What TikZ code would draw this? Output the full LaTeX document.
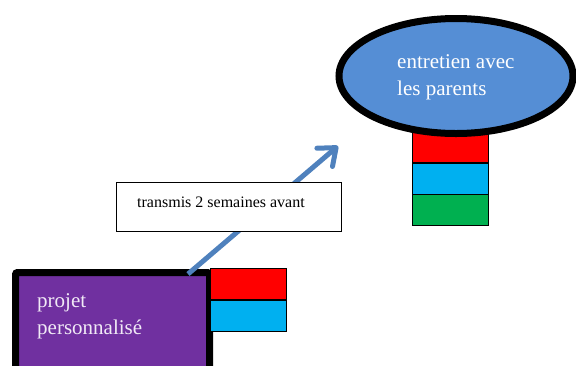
\documentclass[tikz,border=0pt]{standalone}
\usepackage{fontspec}
\setmainfont{Liberation Serif}
\usetikzlibrary{arrows.meta,shapes.geometric}
\definecolor{projpurple}{RGB}{112,48,160}
\definecolor{ovalblue}{RGB}{85,142,213}
\definecolor{arrowblue}{RGB}{79,129,189}
\definecolor{tagred}{RGB}{255,0,0}
\definecolor{tagcyan}{RGB}{0,176,240}
\definecolor{taggreen}{RGB}{0,176,80}
\tikzset{
  tag/.style={draw=black, line width=1pt, minimum width=76pt, minimum height=31pt,
              inner sep=0pt, anchor=north west},
  bigtext/.style={text=white, font=\fontsize{21}{27}\selectfont, align=left,
                  inner sep=0pt, anchor=base west},
}
\begin{document}
\begin{tikzpicture}[x=1pt,y=-1pt]
  \useasboundingbox (0,0) rectangle (576,365);
  \clip (0,0) rectangle (576,365);

  % stacked tags below the oval
  \node[tag, fill=tagred]   (ered)   at (412,131) {};
  \node[tag, fill=tagcyan]  (ecyan)  at (412,163) {};
  \node[tag, fill=taggreen] (egreen) at (412,194) {};

  % oval: meeting with the parents
  \node[draw=black, line width=7pt, fill=ovalblue, ellipse, minimum width=234pt,
        minimum height=115pt, inner sep=0pt] (oval) at (456,76) {};
  \node[bigtext] (ovaltext) at (397,95) {entretien avec\\les parents};

  % personal project box
  \node[draw=black, line width=7pt, fill=projpurple, rounded corners=2pt,
        minimum width=194pt, minimum height=110pt, inner sep=0pt,
        anchor=north west] (proj) at (12,269) {};
  \node[bigtext, text=white!90!projpurple] (projtext) at (37,334) {projet\\personnalisé};

  % tags beside the project box
  \node[tag, fill=tagred]  (pred)  at (210,268) {};
  \node[tag, fill=tagcyan] (pcyan) at (210,300) {};

  % transmission arrow with an open barbed head
  \coordinate (tail) at (188,274);
  \coordinate (tip)  at (338,146);
  \draw[arrowblue, line width=5pt,
        -{Straight Barb[length=15pt, width=24pt, round]}] (tail) -- (tip);

  % label box over the arrow
  \node[draw=black, line width=1.2pt, fill=white, minimum width=225pt,
        minimum height=49pt, inner sep=0pt, anchor=north west] (note) at (116,182) {};
  \node[font=\fontsize{16}{20}\selectfont, inner sep=0pt, anchor=base west]
        (notetext) at (137,207) {transmis 2 semaines avant};
\end{tikzpicture}
\end{document}
